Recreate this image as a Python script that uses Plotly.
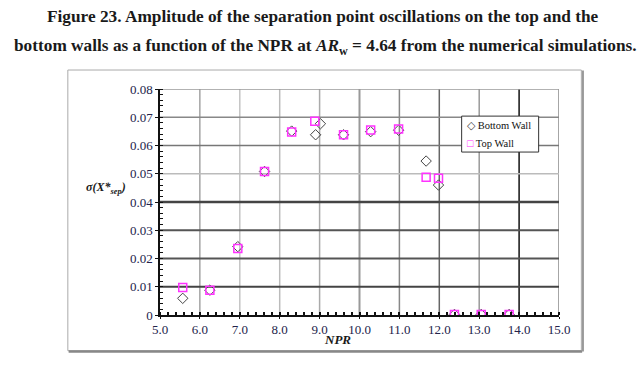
import plotly.graph_objects as go

# ---- data ----
bottom_npr = [5.57, 6.25, 6.95, 7.62, 8.30, 8.90, 9.02, 9.60, 10.28, 10.98, 11.67, 11.98, 12.38, 13.05, 13.75]
bottom_sig = [0.0059, 0.0088, 0.0242, 0.0508, 0.0651, 0.0638, 0.0677, 0.0638, 0.0649, 0.0654, 0.0545, 0.0460, 0.0002, 0.0002, 0.0002]
top_npr = [5.57, 6.25, 6.95, 7.62, 8.30, 8.88, 9.60, 10.28, 10.98, 11.67, 11.98, 12.38, 13.05, 13.75]
top_sig = [0.0097, 0.0088, 0.0235, 0.0508, 0.0648, 0.0686, 0.0638, 0.0655, 0.0658, 0.0488, 0.0484, 0.0002, 0.0002, 0.0002]

x_ticks = [5.0, 6.0, 7.0, 8.0, 9.0, 10.0, 11.0, 12.0, 13.0, 14.0, 15.0]
x_tick_labels = ["5.0", "6.0", "7.0", "8.0", "9.0", "10.0", "11.0", "12.0", "13.0", "14.0", "15.0"]
y_ticks = [0, 0.01, 0.02, 0.03, 0.04, 0.05, 0.06, 0.07, 0.08]
y_tick_labels = ["0", "0.01", "0.02", "0.03", "0.04", "0.05", "0.06", "0.07", "0.08"]

series_names = ["Bottom Wall", "Top Wall"]
series_colors = ["#444444", "#ff33ff"]

# grid line styles (colour, width) per tick
x_grid_style = [None, ("#777", 1), ("#c4c4c4", 1.5), ("#bbb", 1.5), ("#aaa", 1.5), ("#999", 2),
                ("#888", 1.5), ("#666", 1.5), ("#999", 1.5), ("#111", 1.5), ("#888", 1.5)]
y_grid_style = [None, ("#444", 2), ("#555", 2), ("#555", 2), ("#444", 2.5), ("#bbb", 1.5),
                ("#777", 1.5), ("#888", 1.5), ("#999", 1.5)]

serif = "Liberation Serif, Times New Roman, serif"
tick_col = "#23234a"
text_col = "#1a1a1a"

fig = go.Figure()
fig.add_trace(go.Scatter(x=bottom_npr, y=bottom_sig, mode="markers", name=series_names[0],
                         marker=dict(symbol="diamond-open", size=8, color=series_colors[0],
                                     line=dict(width=1, color=series_colors[0]))))
fig.add_trace(go.Scatter(x=top_npr, y=top_sig, mode="markers", name=series_names[1],
                         marker=dict(symbol="square-open", size=8, color=series_colors[1],
                                     line=dict(width=1.5, color=series_colors[1]))))

shapes = []
for v, st in zip(x_ticks, x_grid_style):
    if st:
        shapes.append(dict(type="line", xref="x", yref="paper", x0=v, x1=v, y0=0, y1=1,
                           line=dict(color=st[0], width=st[1]), layer="below"))
for v, st in zip(y_ticks, y_grid_style):
    if st:
        shapes.append(dict(type="line", xref="paper", yref="y", x0=0, x1=1, y0=v, y1=v,
                           line=dict(color=st[0], width=st[1]), layer="below"))
# outer frame with shadow
shapes.append(dict(type="rect", xref="paper", yref="paper", x0=-0.231, x1=1.056, y0=-0.158, y1=1.084,
                   line=dict(color="#aaa", width=1)))
shapes.append(dict(type="line", xref="paper", yref="paper", x0=-0.229, x1=1.058, y0=-0.162, y1=-0.162,
                   line=dict(color="#888", width=2.5)))
shapes.append(dict(type="line", xref="paper", yref="paper", x0=1.060, x1=1.060, y0=-0.162, y1=1.082,
                   line=dict(color="#999", width=2)))
# legend box
shapes.append(dict(type="rect", xref="paper", yref="paper", x0=0.756, x1=0.949, y0=0.721, y1=0.880,
                   line=dict(color="#333", width=1), fillcolor="white", layer="above"))

annotations = [
    dict(text="Figure 23. Amplitude of the separation point oscillations on the top and the",
         xref="paper", yref="paper", x=0.409, y=1.319, xanchor="center", yanchor="middle",
         showarrow=False, font=dict(family=serif, size=17.3, color=text_col, weight="bold")),
    dict(text="bottom walls as a function of the NPR at <i>AR</i><sub>w</sub> = 4.64 from the numerical simulations.",
         xref="paper", yref="paper", x=0.414, y=1.186, xanchor="center", yanchor="middle",
         showarrow=False, font=dict(family=serif, size=17.3, color=text_col, weight="bold")),
    dict(text="<b><i>σ(X*<sub>sep</sub>)</i></b>", xref="paper", yref="paper", x=-0.136, y=0.56,
         xanchor="center", yanchor="middle",
         showarrow=False, font=dict(family=serif, size=12, color=text_col)),
    dict(text="<b><i>NPR</i></b>", xref="paper", yref="paper", x=0.444, y=-0.11,
         xanchor="center", yanchor="middle",
         showarrow=False, font=dict(family=serif, size=13, color=text_col)),
    dict(text=f"<span style='color:{series_colors[0]}'>◇</span> {series_names[0]}",
         xref="paper", yref="paper", x=0.764, y=0.840, xanchor="left", yanchor="middle",
         showarrow=False, font=dict(family=serif, size=10.5, color="#111")),
    dict(text=f"<span style='color:{series_colors[1]}'>□</span> {series_names[1]}",
         xref="paper", yref="paper", x=0.764, y=0.761, xanchor="left", yanchor="middle",
         showarrow=False, font=dict(family=serif, size=10.5, color="#111")),
]

fig.update_layout(
    width=643, height=366,
    margin=dict(l=159.5, r=83.5, t=89, b=51.3, autoexpand=False),
    paper_bgcolor="white", plot_bgcolor="white",
    xaxis=dict(range=[5, 15], tickvals=x_ticks, ticktext=x_tick_labels, showgrid=False, zeroline=False,
               showline=True, linecolor="#111", linewidth=1.5, ticks="outside", ticklen=2, tickcolor="#111",
               tickfont=dict(family=serif, size=13, color=tick_col),
               minor=dict(ticks="inside", dtick=0.2, ticklen=3, tickwidth=1.5, tickcolor="#111", showgrid=False)),
    yaxis=dict(range=[0, 0.08], tickvals=y_ticks, ticktext=y_tick_labels, showgrid=False, zeroline=False,
               showline=True, linecolor="#111", linewidth=1.5, ticks="outside", ticklen=3, tickcolor="#111",
               tickfont=dict(family=serif, size=13, color=tick_col),
               minor=dict(ticks="inside", dtick=0.002, ticklen=3, tickcolor="#111", showgrid=False)),
    showlegend=False,
    shapes=shapes,
    annotations=annotations,
)

fig.write_html("out.html", config={"displayModeBar": False},
               post_script="document.body.style.margin='0';")
